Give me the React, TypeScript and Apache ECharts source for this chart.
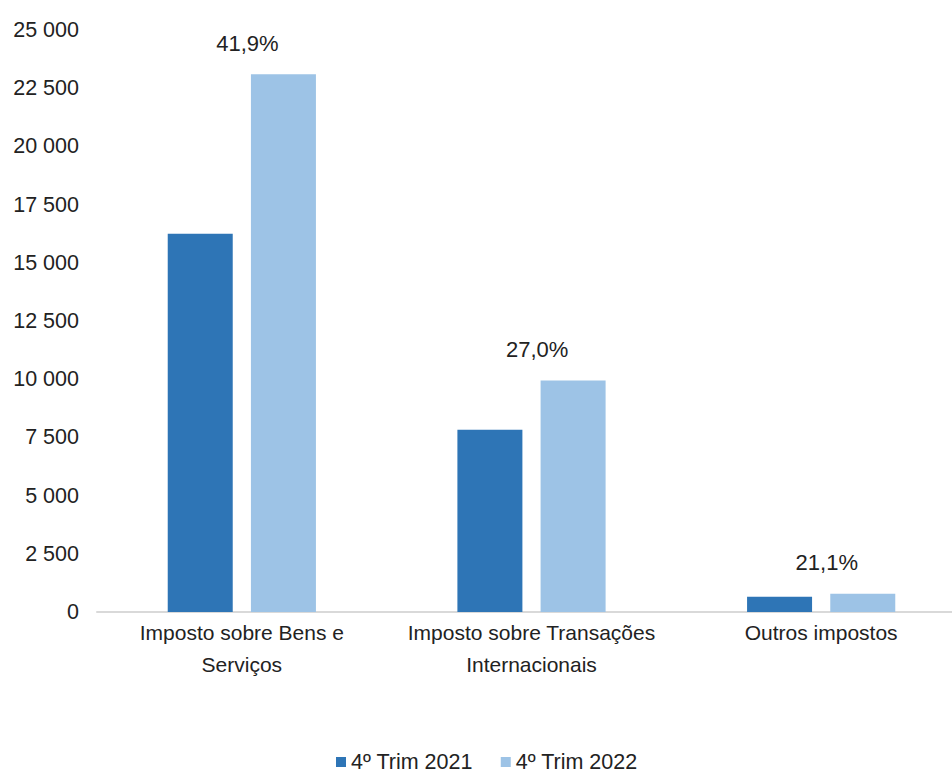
import React, { useEffect, useRef } from "react";
import * as echarts from "echarts";

const categories = [
  "Imposto sobre Bens e\nServiços",
  "Imposto sobre Transações\nInternacionais",
  "Outros impostos",
];
const series2021 = [16250, 7830, 650];
const series2022 = [23100, 9945, 787];
const growthLabels = ["41,9%", "27,0%", "21,1%"];
const seriesNames = ["4º Trim 2021", "4º Trim 2022"];
const yTicks = { min: 0, max: 25000, interval: 2500 };

const FONT = "'Liberation Sans', Arial, sans-serif";

export default function App() {
  const ref = useRef<HTMLDivElement>(null);
  useEffect(() => {
    if (!ref.current) return;
    const chart = echarts.init(ref.current, null, { renderer: "svg" });
    chart.setOption({
      animation: false,
      textStyle: { fontFamily: FONT },
      grid: { left: 97, right: 0, top: 30, bottom: 162, containLabel: false },
      legend: {
        top: 751,
        left: 336,
        padding: 0,
        itemWidth: 10,
        itemHeight: 10,
        itemGap: 28,
        icon: "rect",
        textStyle: { fontSize: 21.5, color: "#222", fontFamily: FONT },
        data: seriesNames,
      },
      xAxis: {
        type: "category",
        data: categories,
        axisLine: { lineStyle: { color: "#d9d9d9", width: 2 } },
        axisTick: { show: false },
        axisLabel: {
          fontSize: 21,
          color: "#222",
          lineHeight: 32,
          margin: 4,
          interval: 0,
          fontFamily: FONT,
        },
      },
      yAxis: {
        type: "value",
        min: yTicks.min,
        max: yTicks.max,
        interval: yTicks.interval,
        axisLine: { show: false },
        axisTick: { show: false },
        splitLine: { show: false },
        axisLabel: {
          fontSize: 21.5,
          color: "#222",
          margin: 18,
          fontFamily: FONT,
          formatter: (v: number) =>
            String(v).replace(/\B(?=(\d{3})+(?!\d))/g, " "),
        },
      },
      series: [
        {
          name: seriesNames[0],
          type: "bar",
          data: series2021,
          barWidth: 65,
          barGap: "28%",
          itemStyle: { color: "#2E75B6" },
        },
        {
          name: seriesNames[1],
          type: "bar",
          data: series2022,
          barWidth: 65,
          itemStyle: { color: "#9DC3E6" },
          label: {
            show: true,
            position: "top",
            offset: [-36, -15],
            fontSize: 22,
            color: "#222",
            fontFamily: FONT,
            formatter: (p: any) => growthLabels[p.dataIndex],
          },
        },
      ],
    });
    return () => chart.dispose();
  }, []);
  return (
    <div
      style={{ position: "fixed", left: 0, top: 0, width: 952, height: 774, overflow: "hidden", background: "#fff" }}
    >
      <div ref={ref} style={{ position: "absolute", left: 0, top: 0, width: 966, height: 774 }} />
    </div>
  );
}
